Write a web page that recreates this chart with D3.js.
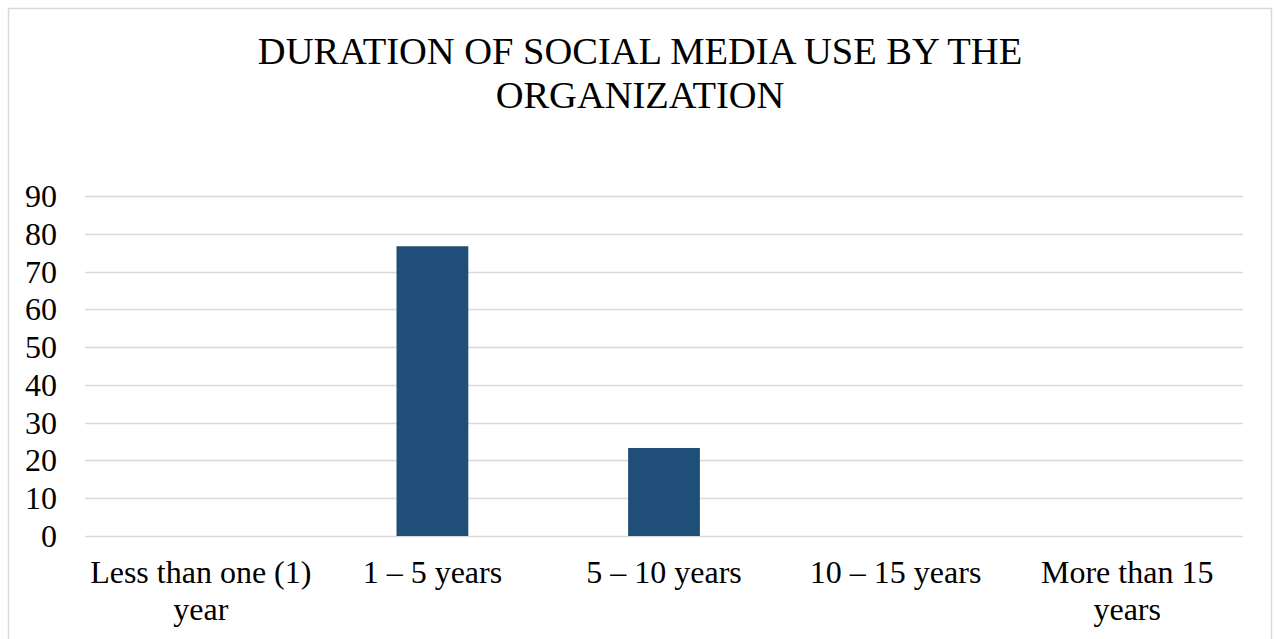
<!DOCTYPE html>
<html>
<head>
<meta charset="utf-8">
<script src="https://cdn.jsdelivr.net/npm/d3@7"></script>
<style>
  body { margin: 0; background: #fff; }
</style>
</head>
<body>
<svg id="chart" width="1274" height="639"></svg>
<script>
// chart data
var categories = [["Less than one (1)", "year"], ["1 \u2013 5 years"], ["5 \u2013 10 years"], ["10 \u2013 15 years"], ["More than 15", "years"]];
var values = [0, 76.7, 23.3, 0, 0];
var yTicks = [0, 10, 20, 30, 40, 50, 60, 70, 80, 90];
var titleLines = ["DURATION OF SOCIAL MEDIA USE BY THE", "ORGANIZATION"];

var FONT = "Liberation Serif, Times New Roman, serif";
var svg = d3.select("#chart");
var margin = {left: 85, right: 31, top: 196, bottom: 103};
var W = 1274, H = 639;

// chart frame
svg.append("rect")
    .attr("x", 8.5).attr("y", 8.5)
    .attr("width", 1263).attr("height", 650)
    .attr("fill", "#fff").attr("stroke", "#d9d9d9").attr("stroke-width", 1.5);

svg.append("text")
    .attr("text-anchor", "middle")
    .attr("font-family", FONT)
    .attr("font-size", 38.5)
    .selectAll("tspan").data(titleLines).enter().append("tspan")
    .attr("x", 640).attr("y", function(d, i) { return 64 + i * 44; })
    .text(function(d) { return d; });

var x = d3.scaleBand()
    .domain(d3.range(categories.length))
    .range([margin.left, W - margin.right])
    .paddingInner(0.69).paddingOuter(0.345);

var y = d3.scaleLinear()
    .domain([0, 90])
    .range([H - margin.bottom, margin.top]);

// gridlines
svg.append("g").selectAll("line").data(yTicks).enter().append("line")
    .attr("x1", margin.left).attr("x2", W - margin.right)
    .attr("y1", function(d) { return Math.round(y(d)) + 0.5; })
    .attr("y2", function(d) { return Math.round(y(d)) + 0.5; })
    .attr("stroke", "#d9d9d9").attr("stroke-width", 1.5);

// y axis labels
svg.append("g").selectAll("text").data(yTicks).enter().append("text")
    .attr("x", 57)
    .attr("y", function(d) { return y(d) + 11; })
    .attr("text-anchor", "end")
    .attr("font-family", FONT)
    .attr("font-size", 32)
    .text(function(d) { return d; });

// bars
svg.append("g").selectAll("rect").data(values).enter().append("rect")
    .attr("x", function(d, i) { return x(i); })
    .attr("width", x.bandwidth())
    .attr("y", function(d) { return y(d); })
    .attr("height", function(d) { return y(0) - y(d); })
    .attr("fill", "#1f4e79");

// category labels
svg.append("g").selectAll("text").data(categories).enter().append("text")
    .attr("text-anchor", "middle")
    .attr("font-family", FONT)
    .attr("font-size", 32)
    .each(function(d, i) {
        var cx = x(i) + x.bandwidth() / 2;
        d3.select(this).selectAll("tspan").data(d).enter().append("tspan")
            .attr("x", cx)
            .attr("y", function(t, j) { return 583 + j * 37; })
            .text(function(t) { return t; });
    });
</script>
</body>
</html>
